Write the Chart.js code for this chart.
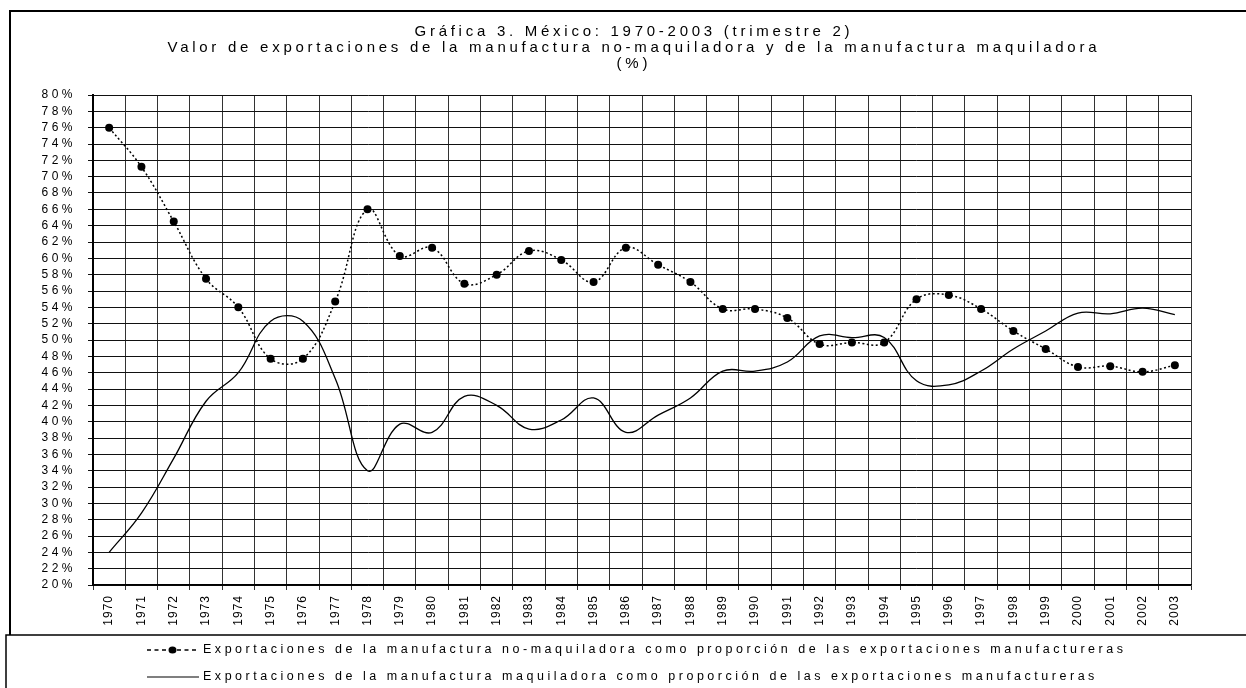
<!DOCTYPE html>
<html>
<head>
<meta charset="utf-8">
<script src="https://cdn.jsdelivr.net/npm/chart.js@4"></script>
<style>
  html, body { margin: 0; padding: 0; background: #fff; }
  canvas { display: block; }
</style>
</head>
<body>
<canvas id="grafica3" width="1246" height="688"></canvas>
<script>
const years = ['1970','1971','1972','1973','1974','1975','1976','1977','1978','1979',
  '1980','1981','1982','1983','1984','1985','1986','1987','1988','1989',
  '1990','1991','1992','1993','1994','1995','1996','1997','1998','1999',
  '2000','2001','2002','2003'];

// % de las exportaciones manufactureras
const noMaquiladora = [76.0, 71.2, 64.5, 57.5, 54.0, 47.7, 47.7, 54.7, 66.0, 60.3,
  61.3, 56.9, 58.0, 60.9, 59.8, 57.1, 61.3, 59.2, 57.1, 53.8,
  53.8, 52.7, 49.5, 49.7, 49.7, 55.0, 55.5, 53.8, 51.1, 48.9,
  46.7, 46.8, 46.1, 46.9];
const maquiladora = [24.0, 28.8, 35.5, 42.5, 46.0, 52.3, 52.3, 45.3, 34.0, 39.7,
  38.7, 43.1, 42.0, 39.1, 40.2, 42.9, 38.7, 40.8, 42.9, 46.2,
  46.2, 47.3, 50.5, 50.3, 50.3, 45.0, 44.5, 46.2, 48.9, 51.1,
  53.3, 53.2, 53.9, 53.1];

const yMin = 20, yMax = 80, yStep = 2;

const titleLines = [
  'Gráfica 3. México: 1970-2003 (trimestre 2)',
  'Valor de exportaciones de la manufactura no-maquiladora y de la manufactura maquiladora',
  '(%)'
];
const legendLabels = [
  'Exportaciones de la manufactura no-maquiladora como proporción de las exportaciones manufactureras',
  'Exportaciones de la manufactura maquiladora como proporción de las exportaciones manufactureras'
];

const FONT = '"Liberation Sans", Arial, sans-serif';

// spacing so that text spans a given width
function fitSpacing(ctx, text, width) {
  ctx.letterSpacing = '0px';
  const w = ctx.measureText(text).width;
  return Math.max(0, (width - w) / (text.length - 1));
}

const decor = {
  id: 'decor',
  beforeDraw(chart) {
    chart.ctx.letterSpacing = '3.5px';
  },
  afterDatasetsDraw(chart) {
    chart.ctx.letterSpacing = '1px';
  },
  afterDraw(chart) {
    const ctx = chart.ctx;
    ctx.save();
    ctx.fillStyle = '#000';
    ctx.strokeStyle = '#000';

    // frame
    ctx.lineWidth = 2;
    ctx.beginPath();
    ctx.moveTo(10, 635);
    ctx.lineTo(10, 11);
    ctx.lineTo(1246, 11);
    ctx.stroke();
    ctx.lineWidth = 1.5;
    ctx.beginPath();
    ctx.moveTo(6, 688);
    ctx.lineTo(6, 635);
    ctx.lineTo(1246, 635);
    ctx.stroke();

    // title
    ctx.font = '15px ' + FONT;
    ctx.textBaseline = 'middle';
    ctx.textAlign = 'left';
    const sp = fitSpacing(ctx, titleLines[0], 435);
    const ty = [32, 48, 64];
    titleLines.forEach((t, i) => {
      ctx.letterSpacing = '0px';
      const w = ctx.measureText(t).width + sp * (t.length - 1);
      ctx.letterSpacing = sp + 'px';
      ctx.fillText(t, 632 - w / 2, ty[i]);
    });

    // legend
    ctx.font = '12.5px ' + FONT;
    const lsp = fitSpacing(ctx, legendLabels[0], 920);
    ctx.letterSpacing = lsp + 'px';
    ctx.lineWidth = 1.6;
    ctx.setLineDash([4, 3.5]);
    ctx.beginPath();
    ctx.moveTo(147, 650);
    ctx.lineTo(199, 650);
    ctx.stroke();
    ctx.setLineDash([]);
    ctx.beginPath();
    ctx.ellipse(172.5, 650, 4, 3.5, 0, 0, Math.PI * 2);
    ctx.fill();
    ctx.fillText(legendLabels[0], 203, 650);

    ctx.lineWidth = 1.2;
    ctx.beginPath();
    ctx.moveTo(147, 677);
    ctx.lineTo(199, 677);
    ctx.stroke();
    ctx.fillText(legendLabels[1], 203, 677);

    ctx.restore();
    ctx.letterSpacing = '0px';
  }
};

const ctx = document.getElementById('grafica3').getContext('2d');
new Chart(ctx, {
  type: 'line',
  data: {
    labels: years,
    datasets: [
      {
        label: legendLabels[0],
        data: noMaquiladora,
        borderColor: '#000',
        borderWidth: 1.5,
        borderDash: [2, 2.5],
        tension: 0.4,
        pointRadius: 4,
        pointBackgroundColor: '#000',
        pointBorderWidth: 0,
        fill: false
      },
      {
        label: legendLabels[1],
        data: maquiladora,
        borderColor: '#000',
        borderWidth: 1.3,
        tension: 0.4,
        pointRadius: 0,
        fill: false
      }
    ]
  },
  options: {
    responsive: false,
    animation: false,
    layout: { padding: { top: 95, right: 55, bottom: 0, left: 0 } },
    plugins: {
      legend: { display: false },
      title: { display: false },
      tooltip: { enabled: false }
    },
    scales: {
      x: {
        offset: true,
        grid: { offset: true, color: '#333', lineWidth: 1, tickLength: 5 },
        border: { color: '#000', width: 1.5 },
        ticks: {
          z: 1,
          autoSkip: false,
          minRotation: 90,
          maxRotation: 90,
          padding: 5,
          color: '#000',
          font: { family: FONT, size: 12 }
        },
        afterFit: (s) => { s.height = 103; }
      },
      y: {
        min: yMin,
        max: yMax,
        grid: { color: '#111', lineWidth: 1, tickLength: 5 },
        border: { color: '#000', width: 2 },
        ticks: {
          stepSize: yStep,
          autoSkip: false,
          padding: 12,
          color: '#000',
          font: { family: FONT, size: 12 },
          callback: (v) => v + '%'
        },
        afterFit: (s) => { s.width = 93; }
      }
    }
  },
  plugins: [decor]
});
</script>
</body>
</html>
